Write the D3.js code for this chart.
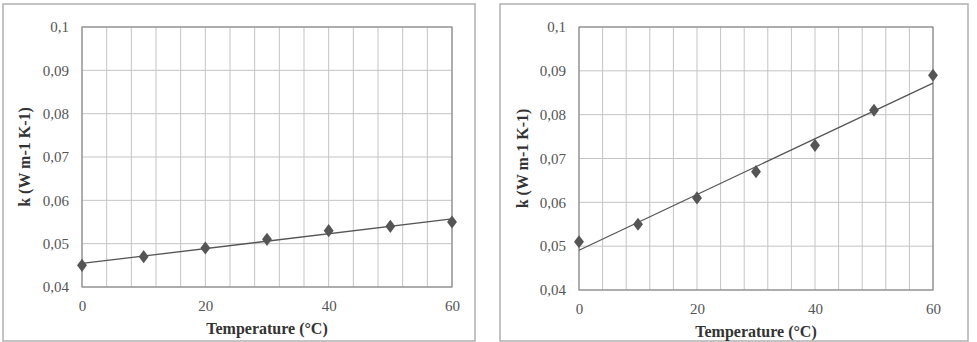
<!DOCTYPE html>
<html>
<head>
<meta charset="utf-8">
<script src="https://cdn.jsdelivr.net/npm/d3@7"></script>
<style>
  body { margin: 0; background: #fff; }
  svg { display: block; }
</style>
</head>
<body>
<div id="chart"></div>
<script>
// data
const temps = [0, 10, 20, 30, 40, 50, 60];
const kLeft = [0.045, 0.047, 0.049, 0.051, 0.053, 0.054, 0.055];
const kRight = [0.051, 0.055, 0.061, 0.067, 0.073, 0.081, 0.089];
const xTicks = [0, 20, 40, 60];
const yTicks = [0.04, 0.05, 0.06, 0.07, 0.08, 0.09, 0.1];
const xGrid = d3.range(0, 61, 4);

const W = 977, H = 342;
const SERIF = '"Liberation Serif", "Times New Roman", Times, Tinos, "DejaVu Serif", "Noto Serif", serif';
const svg = d3.select("#chart").append("svg")
    .attr("width", W)
    .attr("height", H);

const fmt = d => String(d).replace(".", ",");

// least squares line, like the excel trendline
function fit(xs, ys) {
    let mx = d3.mean(xs), my = d3.mean(ys);
    let sxy = d3.sum(xs, (x, i) => (x - mx) * (ys[i] - my));
    let sxx = d3.sum(xs, x => (x - mx) * (x - mx));
    let b = sxy / sxx;
    return x => my + b * (x - mx);
}

function panel(box, plot, values) {
    let g = svg.append("g");

    // outer frame
    g.append("rect")
        .attr("x", box.x).attr("y", box.y)
        .attr("width", box.w).attr("height", box.h)
        .attr("fill", "#fff")
        .attr("stroke", "#b0b0b0")
        .attr("stroke-width", 1.5);

    let x = d3.scaleLinear().domain([0, 60]).range([plot.left, plot.right]);
    let y = d3.scaleLinear().domain([0.04, 0.1]).range([plot.bottom, plot.top]);

    // grid
    g.selectAll(".vg").data(xGrid).join("line")
        .attr("x1", d => x(d)).attr("x2", d => x(d))
        .attr("y1", plot.top).attr("y2", plot.bottom)
        .attr("stroke", "#c4c4c4").attr("stroke-width", 1);
    g.selectAll(".hg").data(yTicks).join("line")
        .attr("x1", plot.left).attr("x2", plot.right)
        .attr("y1", d => y(d)).attr("y2", d => y(d))
        .attr("stroke", "#c4c4c4").attr("stroke-width", 1);

    g.append("rect")
        .attr("x", plot.left).attr("y", plot.top)
        .attr("width", plot.right - plot.left)
        .attr("height", plot.bottom - plot.top)
        .attr("fill", "none")
        .attr("stroke", "#8a8a8a")
        .attr("stroke-width", 1.2);

    // axes (labels only, excel style)
    let yAxis = d3.axisLeft(y).tickValues(yTicks).tickFormat(fmt).tickSize(0).tickPadding(13);
    let ya = g.append("g").attr("transform", `translate(${plot.left},0)`).call(yAxis);
    let xAxis = d3.axisBottom(x).tickValues(xTicks).tickSize(0).tickPadding(13);
    let xa = g.append("g").attr("transform", `translate(0,${plot.bottom})`).call(xAxis);
    [ya, xa].forEach(a => {
        a.attr("font-family", null).attr("font-size", null);
        a.select(".domain").remove();
        a.selectAll("text")
            .style("font-family", SERIF)
            .style("font-size", "15px")
            .attr("fill", "#555");
    });

    // trendline
    let f = fit(temps, values);
    g.append("line")
        .attr("x1", x(0)).attr("y1", y(f(0)))
        .attr("x2", x(60)).attr("y2", y(f(60)))
        .attr("stroke", "#555")
        .attr("stroke-width", 1.3);

    // markers
    let diamond = d3.symbol().type(d3.symbolDiamond).size(50);
    g.selectAll(".pt").data(temps).join("path")
        .attr("d", diamond)
        .attr("transform", (d, i) => `translate(${x(d)},${y(values[i])}) scale(1.3,1)`)
        .attr("fill", "#555");

    // titles
    g.append("text")
        .attr("x", (plot.left + plot.right) / 2)
        .attr("y", plot.bottom + 47)
        .attr("text-anchor", "middle")
        .style("font-family", SERIF)
        .style("font-weight", "bold")
        .style("font-size", "16px")
        .attr("fill", "#333")
        .text("Temperature (°C)");

    g.append("text")
        .attr("transform", `translate(${box.ytitle},${(plot.top + plot.bottom) / 2}) rotate(-90)`)
        .attr("text-anchor", "middle")
        .attr("dy", "0.35em")
        .style("font-family", SERIF)
        .style("font-weight", "bold")
        .style("font-size", "16px")
        .attr("fill", "#333")
        .text("k (W m-1 K-1)");
}

panel({x: 3, y: 4, w: 472, h: 337, ytitle: 24},
      {left: 82, right: 452, top: 27, bottom: 287}, kLeft);
panel({x: 500, y: 4, w: 468, h: 337, ytitle: 522},
      {left: 579, right: 933, top: 27, bottom: 290}, kRight);
</script>
</body>
</html>
